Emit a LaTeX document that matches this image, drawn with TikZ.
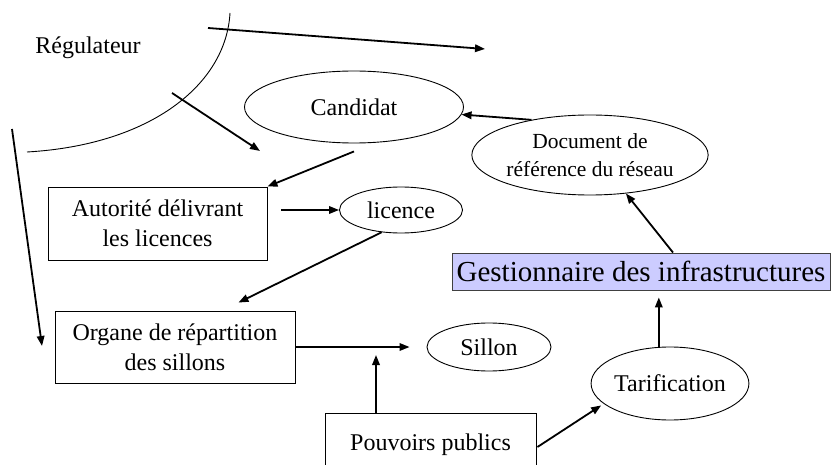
\documentclass[tikz,border=0pt]{standalone}
\usepackage{fontspec}
\setmainfont{Liberation Serif}
\usetikzlibrary{shapes.geometric,arrows.meta,calc}
\definecolor{gestfill}{HTML}{CCCCFF}
\begin{document}
\begin{tikzpicture}[x=1pt,y=-1pt,
  lbl/.style={font=\fontsize{24}{30}\selectfont, align=center, inner sep=0pt},
  ell/.style={lbl, draw, ellipse, line width=0.9pt},
  rbox/.style={lbl, draw, rectangle, line width=0.9pt},
  arr/.style={line width=1.8pt, -{Triangle[length=10pt,width=7.5pt]}},
  thinline/.style={line width=0.9pt}]
\useasboundingbox (0,0) rectangle (832,465);
\clip (0,0) rectangle (832,465);
\fill[white] (0,0) rectangle (832,465);

% nodes
\node[lbl] (reg) at (88,48) {Régulateur};
\node[ell, minimum width=219pt, minimum height=72pt] (cand) at (354,107) {Candidat};
\node[ell, minimum width=198pt, minimum height=80pt, font=\fontsize{21.5}{28}\selectfont] (doc) at (590,155) {Document de\\référence du réseau};
\node[rbox, fill=gestfill, draw=black!75, minimum width=378pt, minimum height=37pt, font=\fontsize{29}{34}\selectfont] (gest) at (641,271.5) {Gestionnaire des infrastructures};
\node[rbox, minimum width=219pt, minimum height=73pt] (aut) at (157.5,223.5) {Autorité délivrant\\les licences};
\node[ell, minimum width=123pt, minimum height=46pt] (lic) at (401,210) {licence};
\node[rbox, minimum width=240pt, minimum height=72pt] (org) at (175,347) {Organe de répartition\\des sillons};
\node[ell, minimum width=124pt, minimum height=48pt] (sil) at (489,347) {Sillon};
\node[rbox, minimum width=211pt, minimum height=64pt] (pouv) at (430.5,445) {Pouvoirs publics};
\node[ell, minimum width=154pt, minimum height=73pt] (tarif) at (670,383.5) {Tarification};

% free coordinates
\coordinate (ta) at (208,28);
\coordinate (tb) at (485,49);
\coordinate (ma) at (172,93);
\coordinate (mb) at (260,151);
\coordinate (la) at (12,129);
\coordinate (lb) at (42,346);
\coordinate (psill) at (376,355);

% regulator arc
\draw[thinline] (230,13) .. controls (226,85) and (150,145) .. (27,152);

% connectors
\draw[arr] (ta) -- (tb);
\draw[arr] (ma) -- (mb);
\draw[arr] (la) -- (lb);
\draw[arr] (doc.149) -- (cand.-4);
\draw[arr] ($(cand.south)+(0,8)$) -- (aut.north east);
\draw[arr] ($(gest.north)+(32,0)$) -- (doc.-47);
\draw[arr, shorten >=7pt] (tarif.107) -- (tarif.107 |- gest.south);
\draw[arr, shorten >=3pt] ($(pouv.east)+(1,2)$) -- (tarif.197);
\draw[arr] ($(pouv.north)+(-54.5,0)$) -- (psill);
\draw[arr, shorten >=17pt] (org.east) -- (org.east -| sil.west);
\draw[arr] (lic.229) -- ($(org.north east)+(-57,-8)$);
\draw[arr] ($(aut.east |- lic.west)+(14,0)$) -- (lic.west);
\end{tikzpicture}
\end{document}
